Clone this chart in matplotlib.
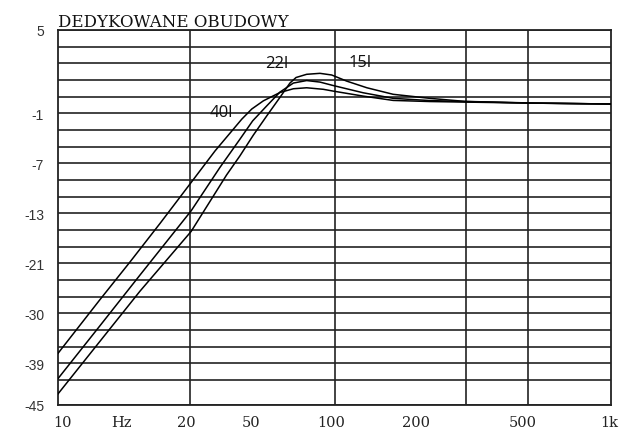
import matplotlib
matplotlib.use("Agg")
import matplotlib.pyplot as plt
import numpy as np
from matplotlib.ticker import FixedLocator, NullFormatter

# frequency response of the three enclosures
freq_40l = [10, 14.2, 18.2, 23.4, 30.3, 37.0, 46.2, 50.2, 55.3, 63.5, 71.0,
            79.3, 91.1, 99.0, 127, 163, 221, 296, 500, 1000]
db_40l = [-37.2, -27.5, -20.8, -14.6, -9.3, -5.5, -1.7, -0.69, -0.10, 0.50, 0.77,
          0.84, 0.73, 0.60, 0.24, -0.07, -0.15, -0.19, -0.26, -0.33]

freq_22l = [10, 14.2, 19.8, 30.3, 38.5, 45.5, 50.6, 56.9, 63.5, 71.0, 79.3,
            88.6, 99.0, 127, 163, 221, 296, 500, 1000]
db_22l = [-41.2, -32.2, -23.1, -12.7, -7.5, -4.1, -1.9, -0.46, 0.53, 1.18, 1.36,
          1.25, 1.00, 0.48, 0.08, -0.08, -0.15, -0.26, -0.33]

freq_15l = [10, 14.2, 19.8, 30.3, 40.7, 45.5, 50.9, 56.9, 63.5, 69.0, 72.6,
            79.3, 88.6, 97.7, 110.7, 131, 163, 221, 296, 500, 1000]
db_15l = [-43.4, -35.0, -26.0, -15.9, -8.4, -6.1, -3.6, -1.3, 0.15, 1.18, 1.58,
          1.81, 1.88, 1.76, 1.32, 0.84, 0.37, 0.08, -0.14, -0.25, -0.33]

# axis labels as printed on the chart
x_tick_pos = [10.34, 17.0, 29.0, 50, 97, 197, 480, 984]
x_tick_labels = ["10", "Hz", "20", "50", "100", "200", "500", "1k"]
x_grid = [30, 50, 100, 300, 500]

y_tick_vals = [-45, -39, -30, -21, -13, -7, -1, 5]
y_tick_rows = [0, 2.5, 5.5, 8.5, 11.5, 14.5, 17.5, 22.5]  # grid row of each label

curve_labels = ["40l", "22l", "15l"]
label_pos = [(35.3, -0.91), (56.1, 2.64), (112.8, 2.73)]


def y_fwd(v):
    return np.interp(v, y_tick_vals, y_tick_rows)


def y_inv(u):
    return np.interp(u, y_tick_rows, y_tick_vals)


fig = plt.figure(figsize=(6.39, 4.31), dpi=100)
ax = fig.add_axes([58 / 639, 25 / 431, 553 / 639, 375 / 431])

ax.set_xscale("log")
ax.set_xlim(10, 1000)
ax.set_yscale("function", functions=(y_fwd, y_inv))
ax.set_ylim(-45, 5)

for f, d in [(freq_40l, db_40l), (freq_22l, db_22l), (freq_15l, db_15l)]:
    ax.plot(f, d, color="black", lw=1.1, zorder=3)

# ticks and grid
ax.xaxis.set_major_locator(FixedLocator(x_tick_pos))
ax.set_xticklabels(x_tick_labels, fontfamily="DejaVu Serif", fontsize=10.5)
ax.xaxis.set_minor_locator(FixedLocator(x_grid))
ax.xaxis.set_minor_formatter(NullFormatter())

ax.yaxis.set_major_locator(FixedLocator(y_tick_vals))
ax.set_yticklabels([str(v) for v in y_tick_vals], fontfamily="Liberation Sans", fontsize=10)
ax.yaxis.set_minor_locator(FixedLocator(y_inv(np.arange(1.5, 22.5, 1))))
ax.yaxis.set_minor_formatter(NullFormatter())

ax.tick_params(which="both", length=0)
ax.tick_params(axis="x", pad=7, colors="#222222")
ax.tick_params(axis="y", pad=10, colors="#333333")

ax.xaxis.grid(True, which="minor", color="#222222", lw=1.2)
ax.yaxis.grid(True, which="both", color="#222222", lw=1.2)
ax.set_axisbelow(True)
for s in ax.spines.values():
    s.set_color("#222222")
    s.set_linewidth(1.3)

for txt, (lx, ly) in zip(curve_labels, label_pos):
    ax.text(lx, ly, txt, ha="left", va="center", fontfamily="Open Sans",
            fontsize=12, color="#111111", zorder=4)

ax.set_title("DEDYKOWANE OBUDOWY", loc="left", fontfamily="DejaVu Serif",
             fontsize=12, pad=3, color="#111111")

fig.savefig("out.png", dpi=100)
